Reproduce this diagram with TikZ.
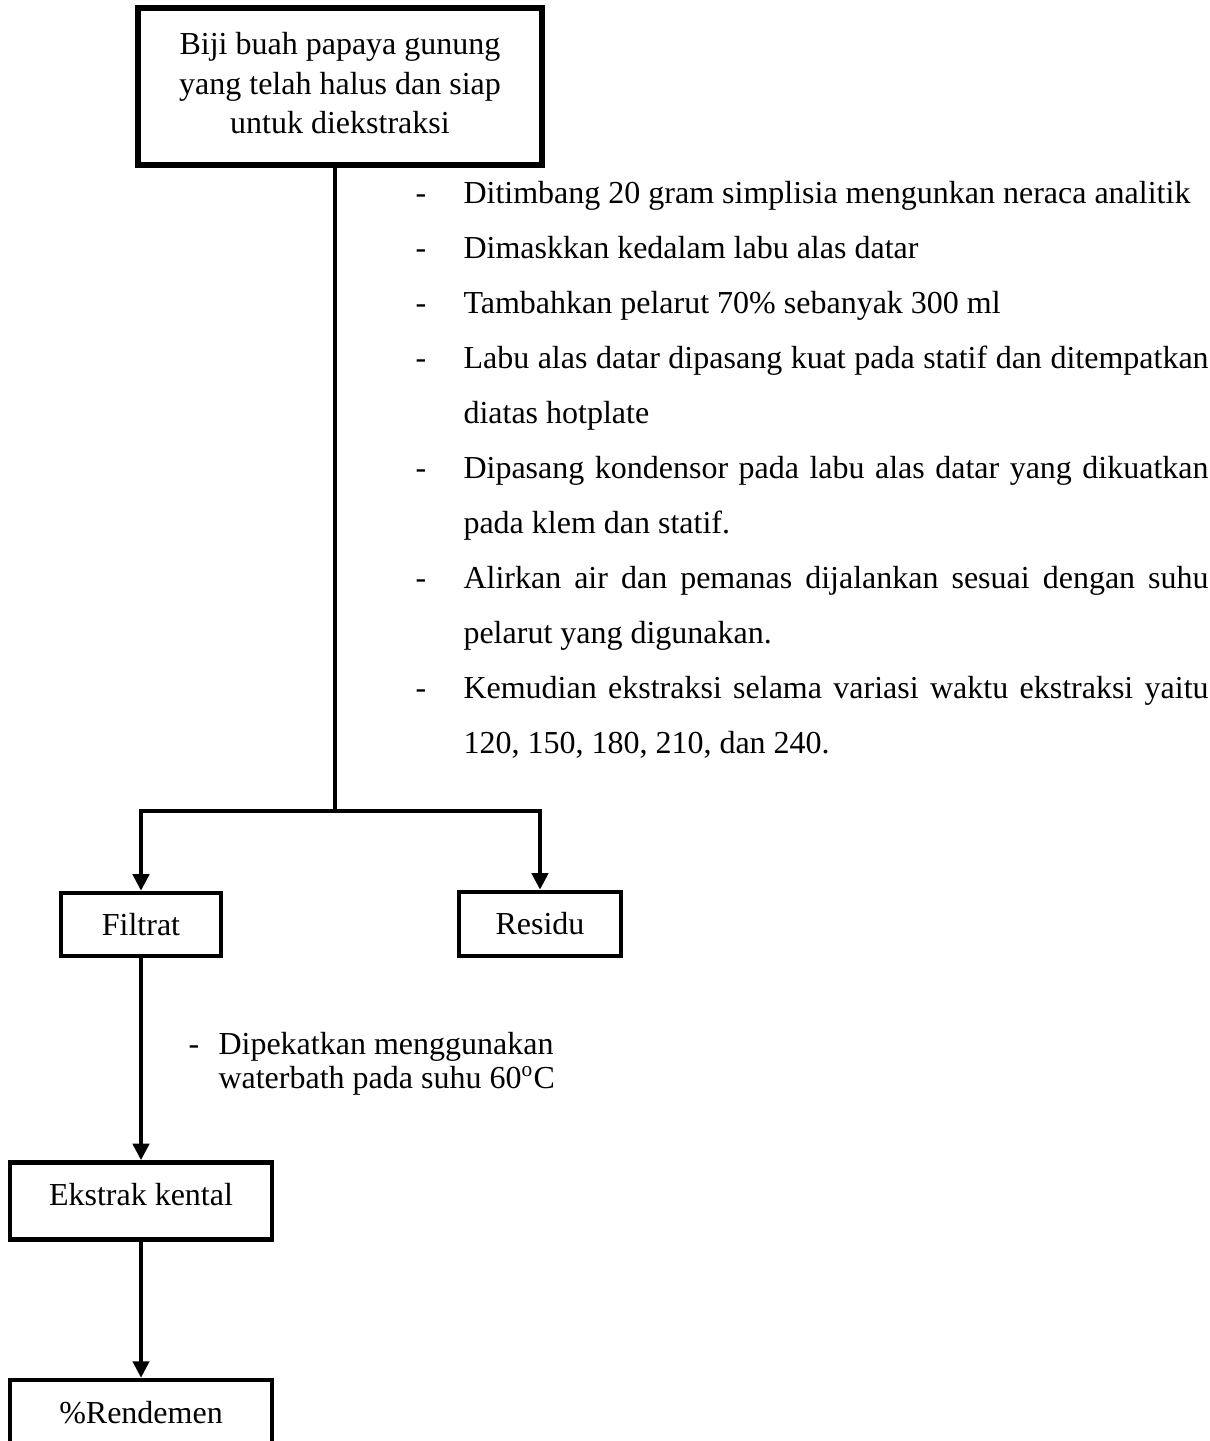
\documentclass[tikz,border=0pt]{standalone}
\usepackage{fontspec}
\setmainfont{Liberation Serif}
\usetikzlibrary{positioning}
\usetikzlibrary{arrows.meta}
\newcommand{\itemdash}{\makebox[18pt][l]{-}}
\newcommand{\justline}[1]{\makebox[279.4pt][s]{#1}}
\tikzset{kotak/.style={shape=rectangle, draw=black, line width=1.7pt, font=\fontsize{12}{15}\selectfont},
  kotakatas/.style={kotak, text height=8pt, inner ysep=8.1pt},
  panah/.style={-{Triangle[length=6.2pt, width=6pt]}, line width=1.6pt}}

\begin{document}
\begin{tikzpicture}[x=0.375pt, y=-0.375pt]
 \useasboundingbox (0,0) rectangle (1210,1441);
 \node[kotak, line width=2.2pt, align=center, minimum width=151.5pt, minimum height=58.9pt] (biji) at (340,86.5)
  {Biji buah papaya gunung\\yang telah halus dan siap\\[-0.4pt]untuk diekstraksi\rule[-3pt]{0pt}{1pt}};
 \node[kotak, minimum width=60pt, minimum height=23.6pt] (filtrat) at (141,924.5) {Filtrat};
 \node[kotak, minimum width=60.75pt, minimum height=24pt] (residu) at (540,924) {Residu};
 \node[kotakatas, minimum width=98.25pt, text depth=4.7pt, below = 75.75pt of filtrat.south] (ekstrak) {Ekstrak kental};
 \node[kotakatas, minimum width=98.25pt, text depth=30pt, below = 51pt of ekstrak.south] (rendemen) {\%Rendemen};
 \coordinate (cabang) at (335,811);

 \draw[line width=1.6pt] (cabang |- biji.south) -- (cabang);
 \draw[panah] (cabang) -| (filtrat.north);
 \draw[panah] (cabang) -| (residu.north);
 \draw[panah] (filtrat) -- (ekstrak);
 \draw[panah] (ekstrak) -- (rendemen);

 % langkah ekstraksi (base = baris terakhir)
 \node[anchor=base west, inner sep=0pt, align=left, font=\fontsize{12}{20.625}\selectfont] (langkah) at (415,753)
  {\itemdash Ditimbang 20 gram simplisia mengunkan neraca analitik\\
   \itemdash Dimaskkan kedalam labu alas datar\\
   \itemdash Tambahkan pelarut 70\% sebanyak 300 ml\\
   \itemdash\justline{Labu alas datar dipasang kuat pada statif dan ditempatkan}\\
   \hspace*{18pt}diatas hotplate\\
   \itemdash\justline{Dipasang kondensor pada labu alas datar yang dikuatkan}\\
   \hspace*{18pt}pada klem dan statif.\\
   \itemdash\justline{Alirkan air dan pemanas dijalankan sesuai dengan suhu}\\
   \hspace*{18pt}pelarut yang digunakan.\\
   \itemdash\justline{Kemudian ekstraksi selama variasi waktu ekstraksi yaitu}\\
   \hspace*{18pt}120, 150, 180, 210, dan 240.};
 \node[anchor=base west, inner sep=0pt, align=left, font=\fontsize{12}{12.4}\selectfont] (pekat) at (188,1088)
  {\makebox[11.25pt][l]{-}Dipekatkan menggunakan\\
   \hspace*{11.25pt}waterbath pada suhu 60\textsuperscript{o}C};
\end{tikzpicture}
\end{document}
